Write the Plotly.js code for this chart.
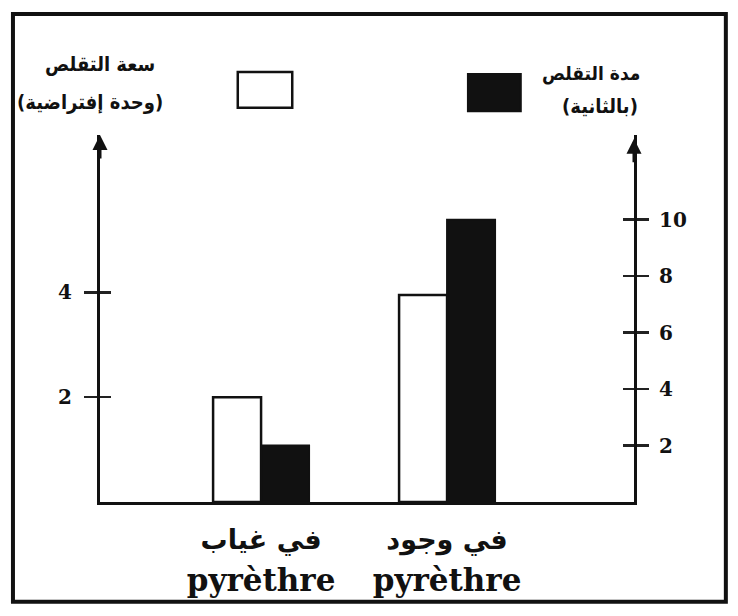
<!DOCTYPE html>
<html>
<head>
<meta charset="utf-8">
<script src="https://cdn.plot.ly/plotly-3.0.1.min.js"></script>
<style>html,body{margin:0;padding:0;background:#fff;}#chart{width:738px;height:616px;}</style>
</head>
<body>
<div id="chart"></div>
<script>
const categoriesAr = ["في غياب", "في وجود"];
const categoryLatin = ["pyrèthre", "pyrèthre"];
const amplitude = [2, 3.95];   // سعة التقلص (وحدة إفتراضية) - white bars, left axis
const duration = [2, 10];      // مدة التقلص (بالثانية) - black bars, right axis
const leftTicks = [2, 4];
const rightTicks = [2, 4, 6, 8, 10];
const leftTitle = ["سعة التقلص", "(وحدة إفتراضية)"];
const rightTitle = ["مدة التقلص", "(بالثانية)"];

const categories = categoriesAr.map((a, i) => a + " " + categoryLatin[i]);
const tickText = categoriesAr.map((a, i) =>
  '<span style="font-family:DejaVu Sans;font-size:27px">' + a + '</span><br><span style="font-family:DejaVu Serif;font-size:31px">' + categoryLatin[i] + '</span>');

const serif = "DejaVu Serif, Liberation Serif, serif";
const arab = "DejaVu Sans Condensed, DejaVu Sans, sans-serif";

const traces = [
  {type: 'bar', x: categories, y: amplitude, yaxis: 'y', width: 0.258, offset: -0.258,
   marker: {color: '#ffffff', line: {color: '#111111', width: 2.5}}, showlegend: false, hoverinfo: 'none'},
  {type: 'bar', x: categories, y: duration, yaxis: 'y2', width: 0.258, offset: 0,
   marker: {color: '#111111', line: {color: '#111111', width: 2}}, showlegend: false, hoverinfo: 'none'},
  {type: 'scatter', x: [], y: [], yaxis: 'y3', showlegend: false, hoverinfo: 'none'},
  {type: 'scatter', x: [], y: [], yaxis: 'y4', showlegend: false, hoverinfo: 'none'}
];

const layout = {
  width: 738, height: 616,
  margin: {l: 100, r: 104, t: 135, b: 114},
  paper_bgcolor: '#ffffff', plot_bgcolor: '#ffffff',
  showlegend: false,
  xaxis: {
    type: 'category', range: [-0.866, 2.005], showline: true, linecolor: '#111', linewidth: 2.5,
    showgrid: false, zeroline: false, ticks: '',
    tickvals: categories, ticktext: tickText,
    tickfont: {family: serif, size: 32, color: '#111', weight: 'bold'},
    ticklabelstandoff: 6
  },
  yaxis: {
    range: [0, 7], showline: true, linecolor: '#111', linewidth: 3, showgrid: false, zeroline: false,
    tickvals: leftTicks, ticktext: leftTicks.map(String), ticks: 'outside', ticklen: 13, tickwidth: 2.5, tickcolor: '#222',
    tickfont: {family: serif, size: 20, color: '#111', weight: 'bold'}, ticklabelstandoff: 8
  },
  yaxis2: {
    range: [0, 13], overlaying: 'y', side: 'right', showline: true, linecolor: '#111', linewidth: 3,
    showgrid: false, zeroline: false,
    tickvals: rightTicks, ticktext: rightTicks.map(String), ticks: 'outside', ticklen: 12, tickwidth: 2.5, tickcolor: '#222',
    tickfont: {family: serif, size: 20, color: '#111', weight: 'bold'}, ticklabelstandoff: 6
  },
  yaxis3: {
    range: [0, 7], overlaying: 'y', side: 'left', showline: false, showgrid: false, zeroline: false,
    tickvals: leftTicks, ticks: 'inside', ticklen: 11, tickwidth: 2.5, tickcolor: '#222', showticklabels: false
  },
  yaxis4: {
    range: [0, 13], overlaying: 'y', side: 'right', showline: false, showgrid: false, zeroline: false,
    tickvals: rightTicks, ticks: 'inside', ticklen: 11, tickwidth: 2.5, tickcolor: '#222', showticklabels: false
  },
  shapes: [
    {type: 'rect', xref: 'paper', yref: 'paper', x0: 0.258, x1: 0.360, y0: 1.074, y1: 1.172,
     line: {color: '#111', width: 2.5}, fillcolor: '#fff'},
    {type: 'rect', xref: 'paper', yref: 'paper', x0: 0.689, x1: 0.788, y0: 1.065, y1: 1.166,
     line: {color: '#111', width: 2}, fillcolor: '#111'},
    {type: 'rect', xref: 'paper', yref: 'paper', x0: -0.163, x1: 1.172, y0: -0.272, y1: 1.33,
     line: {color: '#111', width: 4}, fillcolor: 'rgba(0,0,0,0)'}
  ],
  annotations: [
    {xref: 'paper', yref: 'paper', x: 0, y: 1.0, ax: 0, ay: 25, showarrow: true, arrowhead: 2, arrowsize: 1, arrowwidth: 3, arrowcolor: '#111', text: ''},
    {xref: 'paper', yref: 'paper', x: 1, y: 0.99, ax: 0, ay: 25, showarrow: true, arrowhead: 2, arrowsize: 1, arrowwidth: 3, arrowcolor: '#111', text: ''},
    {xref: 'paper', yref: 'paper', x: (157 - 100) / 534, xanchor: 'right', y: 1.232, showarrow: false, text: leftTitle[0], font: {family: arab, size: 20, color: '#111', weight: 'bold'}},
    {xref: 'paper', yref: 'paper', x: (165 - 100) / 534, xanchor: 'right', y: 1.128, showarrow: false, text: leftTitle[1], font: {family: arab, size: 20, color: '#111', weight: 'bold'}},
    {xref: 'paper', yref: 'paper', x: (642 - 100) / 534, xanchor: 'right', y: 1.204, showarrow: false, text: rightTitle[0], font: {family: arab, size: 19, color: '#111', weight: 'bold'}},
    {xref: 'paper', yref: 'paper', x: (640 - 100) / 534, xanchor: 'right', y: 1.117, showarrow: false, text: rightTitle[1], font: {family: arab, size: 20, color: '#111', weight: 'bold'}}
  ]
};

Plotly.newPlot('chart', traces, layout, {staticPlot: true, displayModeBar: false});
</script>
</body>
</html>
